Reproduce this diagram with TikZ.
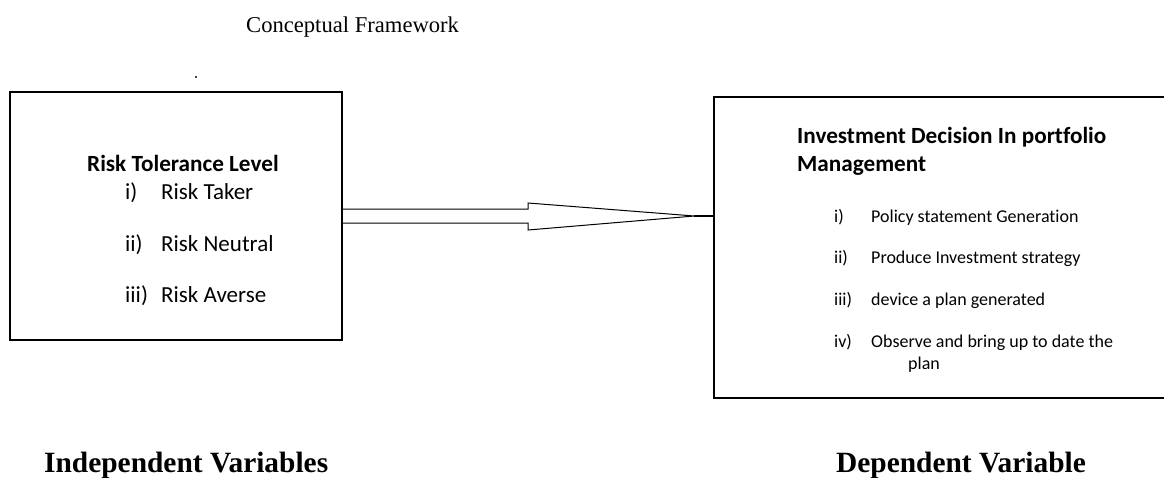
\documentclass[tikz,border=0pt]{standalone}
\usepackage{fontspec}
\setmainfont{Liberation Serif}
\newfontfamily\calibri[Ligatures={NoCommon}]{Carlito}
\usetikzlibrary{positioning,calc}
\begin{document}
\begin{tikzpicture}[x=1pt,y=-1pt,
	box/.style={draw,line width=1.2pt,inner sep=0pt},
	txt/.style={anchor=base west,inner sep=0pt},
	boxhead/.style={txt,font=\calibri\bfseries\fontsize{23.2}{28}\selectfont},
	leftitem/.style={txt,font=\calibri\fontsize{23}{28}\selectfont},
	rightitem/.style={txt,font=\calibri\fontsize{18}{22}\selectfont},
	varlabel/.style={txt,font=\bfseries\fontsize{29.4}{34}\selectfont}]
	\useasboundingbox(0,0)rectangle(1164,477);
	\node[txt,font=\fontsize{22.6}{27}\selectfont](title)at(246,32){Conceptual Framework};
	\fill(196,77)coordinate(dot)circle(1.2pt);
	% the two boxes
	\node[box,minimum width=332pt,minimum height=248pt](risk)at(176,216){};
	\node[box,minimum width=460pt,minimum height=301pt](decision)at(944,247.5){};
	\node[boxhead](riskhead)at(87,171){Risk Tolerance Level};
	\foreach \n/\t/\y[count=\i] in {i)/Risk Taker/199,ii)/Risk Neutral/251,iii)/Risk Averse/302}{
		\node[leftitem](rnum\i)at(125,\y){\n};
		\node[leftitem](rtext\i)at(161,\y){\t};
	}
	\node[boxhead](dechead)at(797,143){Investment Decision In portfolio};
	\node[boxhead](dechead2)at(797,171){Management};
	\foreach \n/\t/\y[count=\i] in {i)/Policy statement Generation/222,ii)/Produce Investment strategy/263,iii)/device a plan generated/305,iv)/Observe and bring up to date the/347}{
		\node[rightitem](dnum\i)at(834,\y){\n};
		\node[rightitem](dtext\i)at(871,\y){\t};
	}
	\node[rightitem](dtext5)at(908,369){plan};
	% hollow arrow
	\coordinate(tip)at($(decision.west|-risk.east)+(-19,0)$);
	\coordinate(neck)at($(risk.east)!0.527!(tip)$);
	\draw[line width=1pt,line join=miter]($(risk.east)+(0,-7)$)--($(neck|-risk.east)+(0,-7)$)
		--($(neck|-risk.east)+(0,-13)$)--(tip)--($(neck|-risk.east)+(0,14)$)
		--($(neck|-risk.east)+(0,7)$)--($(risk.east)+(0,7)$);
	\draw[line width=2pt](tip)--(decision.west|-tip);
	\node[varlabel](indep)at(44,472){Independent Variables};
	\node[varlabel](dep)at(836,472){Dependent Variable};
\end{tikzpicture}
\end{document}
